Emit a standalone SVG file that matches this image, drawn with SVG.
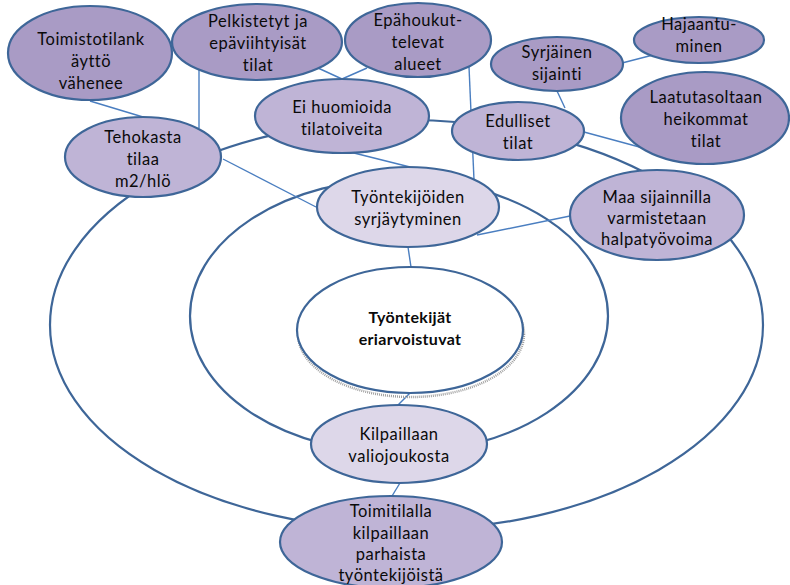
<svg xmlns="http://www.w3.org/2000/svg" width="790" height="585" viewBox="0 0 790 585">
  <style>
    .ring { fill: none; stroke: #3e6698; stroke-width: 2.2; }
    .link { fill: none; stroke: #4a7ec0; stroke-width: 1.4; }
    .node { stroke: #3e6698; stroke-width: 2.2; }
    .dark { fill: #a99bc5; }
    .mid { fill: #bfb4d6; }
    .light { fill: #ddd7e9; }
    .core { fill: #ffffff; }
    text { font-family: Lato, "Liberation Sans", sans-serif; font-size: 16.5px; fill: #0a0a0a; text-anchor: middle; letter-spacing: 0.5px; }
    .bold { font-weight: bold; font-size: 16px; letter-spacing: 0.3px; }
  </style>
  <rect width="790" height="585" fill="#ffffff"/>

  <!-- concentric rings -->
  <g id="rings">
    <ellipse class="ring" cx="406.5" cy="325" rx="356.5" ry="205"/>
    <ellipse class="ring" cx="399" cy="316" rx="209" ry="137"/>
  </g>

  <!-- connectors -->
  <g id="connectors">
    <line class="link" x1="90" y1="101" x2="143" y2="117"/>
    <line class="link" x1="199" y1="70" x2="199" y2="128"/>
    <line class="link" x1="318" y1="68" x2="342" y2="79"/>
    <line class="link" x1="367" y1="68" x2="342" y2="79"/>
    <line class="link" x1="469" y1="67" x2="474" y2="180"/>
    <line class="link" x1="350" y1="152" x2="410" y2="167"/>
    <line class="link" x1="223" y1="159" x2="316" y2="207"/>
    <line class="link" x1="557" y1="91" x2="565" y2="108"/>
    <line class="link" x1="622" y1="63" x2="653" y2="55"/>
    <line class="link" x1="584" y1="132" x2="643" y2="148"/>
    <line class="link" x1="477" y1="235" x2="570" y2="216"/>
    <line class="link" x1="408" y1="247" x2="411" y2="267"/>
    <line class="link" x1="410" y1="393" x2="398" y2="405"/>
    <line class="link" x1="400" y1="483" x2="392" y2="496"/>
  </g>

  <g id="n-toimistotilankaytto">
    <ellipse class="node dark" cx="90" cy="53" rx="82" ry="47"/>
    <text x="91" y="45">Toimistotilank</text>
    <text x="91" y="67">äyttö</text>
    <text x="91" y="89">vähenee</text>
  </g>

  <g id="n-pelkistetyt">
    <ellipse class="node dark" cx="257" cy="42" rx="85" ry="38"/>
    <text x="258" y="27">Pelkistetyt ja</text>
    <text x="258" y="49">epäviihtyisät</text>
    <text x="258" y="71">tilat</text>
  </g>

  <g id="n-epahoukuttelevat">
    <ellipse class="node dark" cx="418" cy="40" rx="73" ry="37"/>
    <text x="418" y="26">Epähoukut-</text>
    <text x="418" y="48">televat</text>
    <text x="418" y="70">alueet</text>
  </g>

  <g id="n-hajaantuminen">
    <ellipse class="node dark" cx="699" cy="40" rx="65" ry="23"/>
    <text x="699" y="30">Hajaantu-</text>
    <text x="699" y="52">minen</text>
  </g>

  <g id="n-syrjainen">
    <ellipse class="node dark" cx="557" cy="64" rx="66" ry="27"/>
    <text x="557" y="58">Syrjäinen</text>
    <text x="557" y="80">sijainti</text>
  </g>

  <g id="n-laatutasoltaan">
    <ellipse class="node dark" cx="705" cy="118" rx="84" ry="46"/>
    <text x="706" y="103">Laatutasoltaan</text>
    <text x="706" y="125">heikommat</text>
    <text x="706" y="147">tilat</text>
  </g>

  <g id="n-eihuomioida">
    <ellipse class="node mid" cx="342" cy="116" rx="87" ry="37"/>
    <text x="342" y="113">Ei huomioida</text>
    <text x="342" y="135">tilatoiveita</text>
  </g>

  <g id="n-edulliset">
    <ellipse class="node mid" cx="518" cy="131" rx="66" ry="29"/>
    <text x="518" y="127">Edulliset</text>
    <text x="518" y="149">tilat</text>
  </g>

  <g id="n-tehokasta">
    <ellipse class="node mid" cx="143" cy="157" rx="78" ry="40"/>
    <text x="143" y="143">Tehokasta</text>
    <text x="143" y="165">tilaa</text>
    <text x="143" y="187">m2/hlö</text>
  </g>

  <g id="n-syrjaytyminen">
    <ellipse class="node light" cx="408" cy="207" rx="91" ry="40"/>
    <text x="408" y="203">Työntekijöiden</text>
    <text x="408" y="225">syrjäytyminen</text>
  </g>

  <g id="n-maasijainnilla">
    <ellipse class="node mid" cx="657" cy="215" rx="87" ry="45"/>
    <text x="657" y="203">Maa sijainnilla</text>
    <text x="657" y="224">varmistetaan</text>
    <text x="657" y="245">halpatyövoima</text>
  </g>

  <g id="n-eriarvoistuvat">
    <!-- soft grainy drop shadow under the core ellipse -->
    <ellipse cx="411" cy="334" rx="113" ry="63" fill="none" stroke="#a0a0a0" stroke-width="2.5" stroke-dasharray="1 1"/>
    <ellipse class="node core" cx="410" cy="330" rx="113" ry="63"/>
    <text class="bold" x="410" y="323">Työntekijät</text>
    <text class="bold" x="410" y="345">eriarvoistuvat</text>
  </g>

  <g id="n-valiojoukosta">
    <ellipse class="node light" cx="399" cy="444" rx="88" ry="39"/>
    <text x="399" y="440">Kilpaillaan</text>
    <text x="399" y="462">valiojoukosta</text>
  </g>

  <g id="n-parhaista">
    <ellipse class="node mid" cx="391" cy="542" rx="111" ry="46"/>
    <text x="391" y="517">Toimitilalla</text>
    <text x="391" y="539">kilpaillaan</text>
    <text x="391" y="560">parhaista</text>
    <text x="391" y="581">työntekijöistä</text>
  </g>
</svg>
